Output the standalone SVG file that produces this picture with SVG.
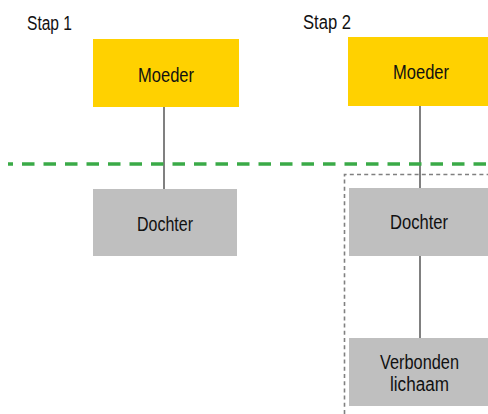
<svg xmlns="http://www.w3.org/2000/svg" width="488" height="414" viewBox="0 0 488 414">
  <style>
    .lbl { font-family: "Liberation Sans", Arial, sans-serif; font-size: 20px; fill: #111111; }
    .mid { text-anchor: middle; }
    .mother { fill: #FFD100; }
    .child { fill: #BFBFBF; }
    .link { stroke: #808080; stroke-width: 2; fill: none; }
    .border { stroke: #3AAA47; stroke-width: 3.5; stroke-dasharray: 12.5 9; stroke-dashoffset: 7.5; fill: none; }
    .scope { stroke: #808080; stroke-width: 1.6; stroke-dasharray: 4 3.2; fill: none; }
  </style>

  <!-- step headings -->
  <text class="lbl" x="27" y="30" textLength="45" lengthAdjust="spacingAndGlyphs">Stap 1</text>
  <text class="lbl" x="303" y="29" textLength="48" lengthAdjust="spacingAndGlyphs">Stap 2</text>

  <!-- group boundary for step 2 -->
  <path class="scope" d="M344.5 414 V174.5 H488"/>

  <!-- connectors -->
  <g id="connectors">
    <line class="link" x1="164" y1="107" x2="164" y2="189"/>
    <line class="link" x1="420" y1="106" x2="420" y2="338"/>
  </g>

  <!-- dashed border line -->
  <line class="border" x1="8" y1="164" x2="488" y2="164"/>

  <!-- step 1 -->
  <g id="moeder1">
    <rect class="mother" x="93" y="39" width="146" height="68"/>
    <text class="lbl mid" x="166" y="82" textLength="56" lengthAdjust="spacingAndGlyphs">Moeder</text>
  </g>
  <g id="dochter1">
    <rect class="child" x="93" y="189" width="144" height="67"/>
    <text class="lbl mid" x="165" y="230.5" textLength="56" lengthAdjust="spacingAndGlyphs">Dochter</text>
  </g>

  <!-- step 2 -->
  <g id="moeder2">
    <rect class="mother" x="348" y="37" width="140" height="69"/>
    <text class="lbl mid" x="421" y="78.5" textLength="56" lengthAdjust="spacingAndGlyphs">Moeder</text>
  </g>
  <g id="dochter2">
    <rect class="child" x="349" y="188" width="139" height="68"/>
    <text class="lbl mid" x="419" y="229" textLength="58" lengthAdjust="spacingAndGlyphs">Dochter</text>
  </g>
  <g id="verbonden">
    <rect class="child" x="349" y="338" width="139" height="68"/>
    <text class="lbl mid" x="419.5" y="368.5" textLength="79" lengthAdjust="spacingAndGlyphs">Verbonden</text>
    <text class="lbl mid" x="419.5" y="391" textLength="59" lengthAdjust="spacingAndGlyphs">lichaam</text>
  </g>
</svg>
